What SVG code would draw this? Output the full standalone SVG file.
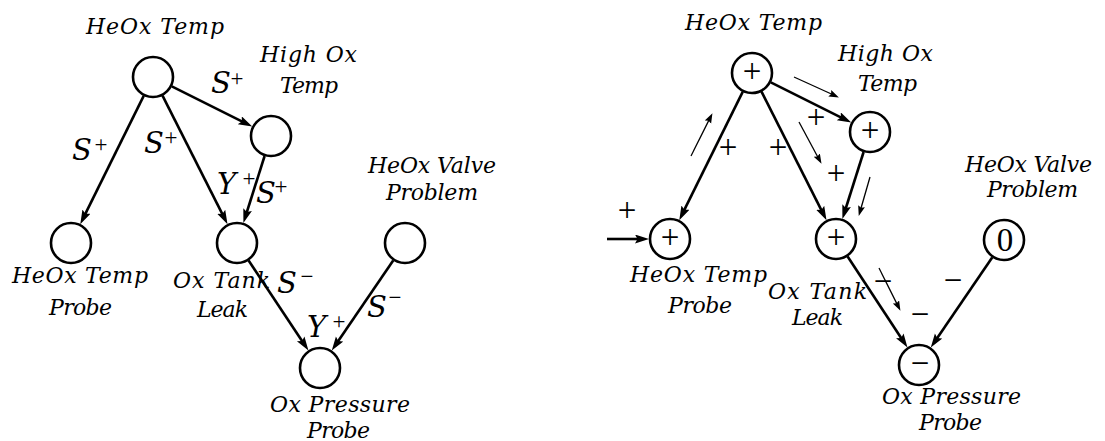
<svg xmlns="http://www.w3.org/2000/svg" width="1105" height="441" viewBox="0 0 1105 441">
<style>
.bg{fill:#fff}
.node{fill:#fff;stroke:#000;stroke-width:2.6}
.edge{fill:none;stroke:#000;stroke-width:2.6}
.thin{fill:none;stroke:#000;stroke-width:1.3}
.lbl{font-family:"DejaVu Serif",serif;font-style:italic;font-size:22px;fill:#000}
.el{font-family:"DejaVu Serif",serif;font-style:italic;font-size:29px;fill:#000}
.sup{font-family:"Liberation Serif",serif;font-size:23px;fill:#000;text-anchor:middle}
.sym{font-family:"Liberation Serif",serif;font-size:33px;fill:#000;text-anchor:middle}
</style>
<defs>
<marker id="ah" markerUnits="userSpaceOnUse" markerWidth="16" markerHeight="12" refX="4" refY="4.5" orient="auto">
<path d="M0,0 L14,4.5 L0,9 L2.5,4.5 z" fill="#000"/>
</marker>
<marker id="sh" markerUnits="userSpaceOnUse" markerWidth="13" markerHeight="9" refX="3" refY="3.5" orient="auto">
<path d="M0,0 L10,3.5 L0,7 L1.5,3.5 z" fill="#000"/>
</marker>
</defs>
<rect class="bg" x="0" y="0" width="1105" height="441"/>

<g id="connectors">
<!-- left -->
<line class="edge" x1="143.7" y1="95.8" x2="84.7" y2="215.2" marker-end="url(#ah)"/>
<line class="edge" x1="162.5" y1="95.7" x2="223.0" y2="215.4" marker-end="url(#ah)"/>
<line class="edge" x1="171.8" y1="86.4" x2="243.3" y2="122.1" marker-end="url(#ah)"/>
<line class="edge" x1="264.6" y1="156.0" x2="246.4" y2="213.5" marker-end="url(#ah)"/>
<line class="edge" x1="248.6" y1="260.5" x2="302.9" y2="342.2" marker-end="url(#ah)"/>
<line class="edge" x1="393.2" y1="260.4" x2="337.4" y2="342.3" marker-end="url(#ah)"/>
<!-- right -->
<line class="edge" x1="742.7" y1="91.8" x2="683.7" y2="211.2" marker-end="url(#ah)"/>
<line class="edge" x1="761.5" y1="91.7" x2="822.0" y2="211.4" marker-end="url(#ah)"/>
<line class="edge" x1="770.8" y1="82.4" x2="842.3" y2="118.1" marker-end="url(#ah)"/>
<line class="edge" x1="863.6" y1="152.0" x2="845.4" y2="209.5" marker-end="url(#ah)"/>
<line class="edge" x1="847.6" y1="256.5" x2="902.0" y2="339.2" marker-end="url(#ah)"/>
<line class="edge" x1="992.2" y1="257.4" x2="936.4" y2="339.3" marker-end="url(#ah)"/>
<line class="edge" x1="607" y1="239" x2="639" y2="239" marker-end="url(#ah)"/>
<!-- propagation arrows -->
<line class="thin" x1="691" y1="156" x2="709.3" y2="119.4" marker-end="url(#sh)"/>
<line class="thin" x1="794" y1="77" x2="832.5" y2="94.5" marker-end="url(#sh)"/>
<line class="thin" x1="799" y1="122" x2="818.2" y2="157.7" marker-end="url(#sh)"/>
<line class="thin" x1="870" y1="177" x2="860.7" y2="209.2" marker-end="url(#sh)"/>
<line class="thin" x1="879" y1="268" x2="897.3" y2="304.6" marker-end="url(#sh)"/>
<!-- edge labels left -->
<text class="el" x="72" y="160">S</text><text class="sup" x="101" y="152">+</text>
<text class="el" x="144" y="153">S</text><text class="sup" x="171" y="145">+</text>
<text class="el" x="211" y="93">S</text><text class="sup" x="237" y="86">+</text>
<text class="el" x="217" y="194">Y</text><text class="sup" x="249" y="186">+</text>
<text class="el" x="256" y="203">S</text><text class="sup" x="281" y="194">+</text>
<text class="el" x="277" y="293">S</text><text class="sup" x="307" y="284">−</text>
<text class="el" x="307" y="337">Y</text><text class="sup" x="339" y="329">+</text>
<text class="el" x="367" y="317">S</text><text class="sup" x="395" y="305">−</text>
<!-- edge labels right -->
<text class="sym" x="627" y="221">+</text>
<text class="sym" x="728" y="158">+</text>
<text class="sym" x="778" y="158">+</text>
<text class="sym" x="816" y="128">+</text>
<text class="sym" x="836" y="184">+</text>
<text class="sym" x="883" y="292">−</text>
<text class="sym" x="953" y="291">−</text>
<text class="sym" x="920" y="325">−</text>
</g>

<!-- left nodes -->
<g id="L-heox-temp">
<circle class="node" cx="153" cy="77" r="20"/>
<text class="lbl" x="86" y="34" textLength="138" lengthAdjust="spacing">HeOx Temp</text>
</g>
<g id="L-high-ox-temp">
<circle class="node" cx="271" cy="136" r="20"/>
<text class="lbl" x="260" y="62" textLength="97" lengthAdjust="spacing">High Ox</text>
<text class="lbl" x="280" y="93" textLength="58" lengthAdjust="spacing">Temp</text>
</g>
<g id="L-heox-temp-probe">
<circle class="node" cx="71" cy="243" r="20"/>
<text class="lbl" x="12" y="283" textLength="136" lengthAdjust="spacing">HeOx Temp</text>
<text class="lbl" x="49" y="315" textLength="63" lengthAdjust="spacing">Probe</text>
</g>
<g id="L-ox-tank-leak">
<circle class="node" cx="237" cy="243" r="20"/>
<text class="lbl" x="173" y="288" textLength="97" lengthAdjust="spacing">Ox Tank</text>
<text class="lbl" x="197" y="317" textLength="51" lengthAdjust="spacing">Leak</text>
</g>
<g id="L-heox-valve-problem">
<circle class="node" cx="405" cy="243" r="20"/>
<text class="lbl" x="368" y="173" textLength="128" lengthAdjust="spacing">HeOx Valve</text>
<text class="lbl" x="386" y="200" textLength="92" lengthAdjust="spacing">Problem</text>
</g>
<g id="L-ox-pressure-probe">
<circle class="node" cx="320" cy="368" r="20"/>
<text class="lbl" x="270" y="412" textLength="140" lengthAdjust="spacing">Ox Pressure</text>
<text class="lbl" x="307" y="438" textLength="63" lengthAdjust="spacing">Probe</text>
</g>

<!-- right nodes -->
<g id="R-heox-temp">
<circle class="node" cx="752" cy="73" r="20"/>
<text class="sym" x="752" y="82">+</text>
<text class="lbl" x="685" y="30" textLength="137" lengthAdjust="spacing">HeOx Temp</text>
</g>
<g id="R-high-ox-temp">
<circle class="node" cx="870" cy="132" r="20"/>
<text class="sym" x="870" y="141">+</text>
<text class="lbl" x="838" y="61" textLength="95" lengthAdjust="spacing">High Ox</text>
<text class="lbl" x="858" y="91" textLength="59" lengthAdjust="spacing">Temp</text>
</g>
<g id="R-heox-temp-probe">
<circle class="node" cx="670" cy="239" r="20"/>
<text class="sym" x="670" y="248">+</text>
<text class="lbl" x="630" y="282" textLength="137" lengthAdjust="spacing">HeOx Temp</text>
<text class="lbl" x="668" y="313" textLength="64" lengthAdjust="spacing">Probe</text>
</g>
<g id="R-ox-tank-leak">
<circle class="node" cx="836" cy="239" r="20"/>
<text class="sym" x="836" y="248">+</text>
<text class="lbl" x="768" y="299" textLength="99" lengthAdjust="spacing">Ox Tank</text>
<text class="lbl" x="792" y="325" textLength="51" lengthAdjust="spacing">Leak</text>
</g>
<g id="R-heox-valve-problem">
<circle class="node" cx="1004" cy="240" r="20"/>
<text class="sym" x="1005" y="251">0</text>
<text class="lbl" x="965" y="172" textLength="127" lengthAdjust="spacing">HeOx Valve</text>
<text class="lbl" x="987" y="197" textLength="91" lengthAdjust="spacing">Problem</text>
</g>
<g id="R-ox-pressure-probe">
<circle class="node" cx="919" cy="365" r="20"/>
<text class="sym" x="920" y="374">−</text>
<text class="lbl" x="882" y="404" textLength="139" lengthAdjust="spacing">Ox Pressure</text>
<text class="lbl" x="919" y="430" textLength="63" lengthAdjust="spacing">Probe</text>
</g>
</svg>
